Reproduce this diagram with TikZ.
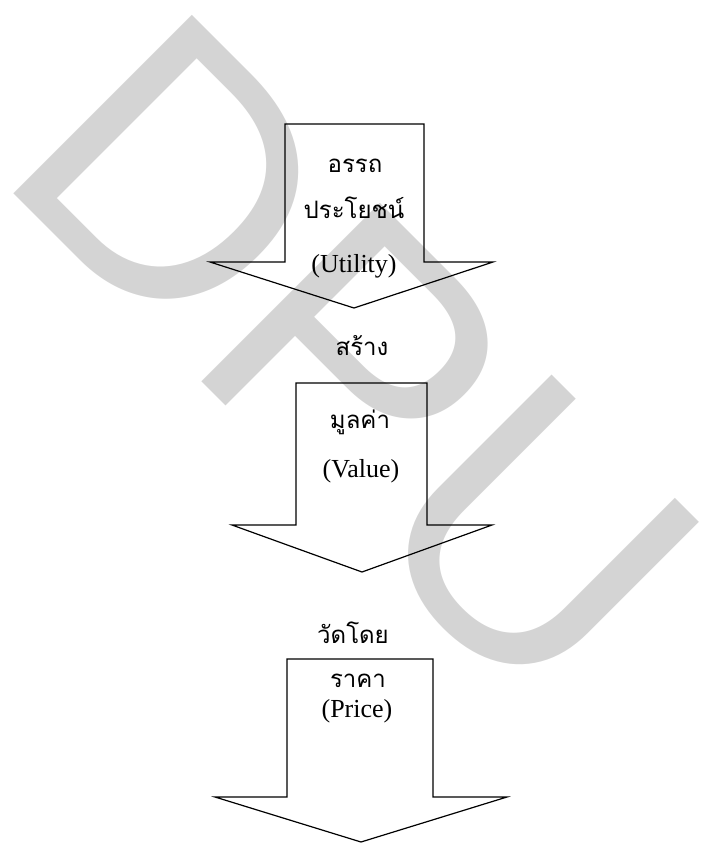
\documentclass[tikz,border=0pt]{standalone}
\usepackage{fontspec}
\setmainfont{Liberation Serif}
\newfontfamily\thaifont[Script=Thai]{Loma}
\newfontfamily\markfont{Liberation Sans}
\definecolor{markgray}{gray}{0.83}

\tikzset{
  blockarrow/.style={line width=0.6pt, line join=miter},
  thai/.style={anchor=base, inner sep=0pt, font=\thaifont\fontsize{12}{15}\selectfont},
  latin/.style={anchor=base, inner sep=0pt, font=\fontsize{13}{16}\selectfont},
}

\begin{document}
\begin{tikzpicture}[x=0.5pt,y=-0.5pt]
\useasboundingbox (0,0) rectangle (702,843);

% watermark behind everything
\begin{scope}
\clip (0,0) rectangle (702,843);
\node[anchor=base west, rotate=-45, inner sep=0pt, text=markgray,
      font=\markfont\fontsize{183.5}{190}\selectfont] (dpu) at (-7.5,172.5) {DPU};
\end{scope}

% the three down arrows: shaft left/right, top, wing line, wing ends, tip
\foreach \l\r\t\w\wl\wr\tx\ty in {285/424/124/262/210/493/354/308,
                                  296/427/383/525/232/492/362/572,
                                  287/433/659/797/215/507/361/842}
\draw[blockarrow] (\l,\w) -- (\l,\t) -- (\r,\t) -- (\r,\w) -- (\wr,\w) -- (\tx,\ty) -- (\wl,\w) -- cycle;

\node[thai] (utilth1) at (355,172) {อรรถ};
\node[thai] (utilth2) at (354,218) {ประโยชน์};
\node[latin] (utilen) at (354,272) {(Utility)};

\node[thai] (create) at (362,355) {สร้าง};

\node[thai] (valueth) at (360,428) {มูลค่า};
\node[latin] (valueen) at (361,477) {(Value)};

\node[thai] (measure) at (353,643) {วัดโดย};

\node[thai] (priceth) at (358,687) {ราคา};
\node[latin] (priceen) at (357,717) {(Price)};

\end{tikzpicture}
\end{document}
